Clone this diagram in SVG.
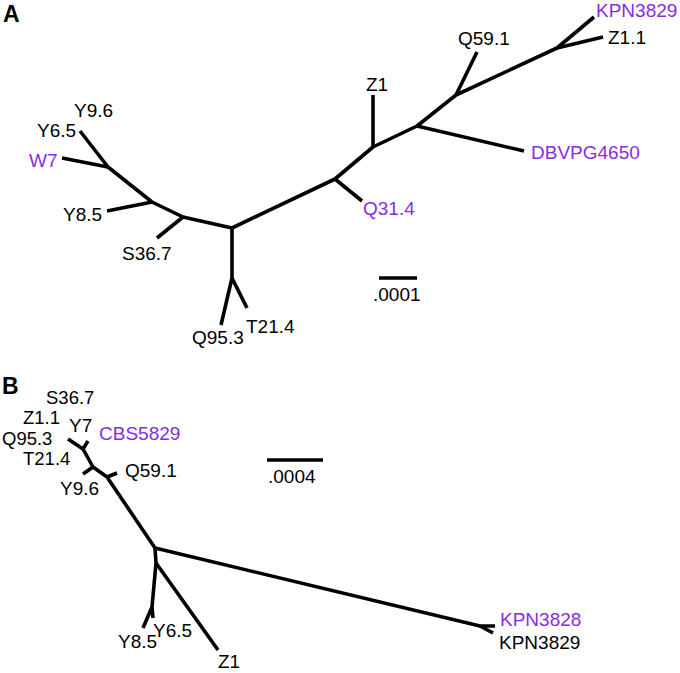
<svg xmlns="http://www.w3.org/2000/svg" width="680" height="673" viewBox="0 0 680 673">
<style>
text{font-family:"Liberation Sans",Arial,sans-serif;font-size:19px;fill:#000}
.p{fill:#8a2be2}
.s{font-size:18.5px}
.h{font-weight:bold;font-size:23px}
.e{fill:none;stroke:#000;stroke-width:3.6;stroke-linecap:butt;stroke-linejoin:round}
</style>
<rect width="680" height="673" fill="#fff"/>
<g id="panelA-label"><text class="h" x="3" y="22">A</text></g>
<g id="panelB-label"><text class="h" x="2" y="394">B</text></g>
<g id="connectors">
<path class="e" d="M80,131 L108,167 L152,202 L183,217 L232,228 L335,179 L373,147 L417,126 L456,95 L557,48 L594,17"/>
<path class="e" d="M62,158 L108,167"/>
<path class="e" d="M107,211 L152,202"/>
<path class="e" d="M157,238 L183,217"/>
<path class="e" d="M232,228 L232,278 L221,325"/>
<path class="e" d="M232,278 L247,308"/>
<path class="e" d="M335,179 L362,201"/>
<path class="e" d="M373,147 L373,95"/>
<path class="e" d="M417,126 L524,151"/>
<path class="e" d="M456,95 L477,52"/>
<path class="e" d="M557,48 L603,37"/>
<path class="e" d="M379,278 L417,278"/>
<path class="e" d="M68,439 L83,449 L93,467 L107,477 L155,548 L480,626 L495,626"/>
<path class="e" d="M83,449 L88,441"/>
<path class="e" d="M93,467 L83,474"/>
<path class="e" d="M107,477 L117,473"/>
<path class="e" d="M480,626 L493,633"/>
<path class="e" d="M155,548 L156,563 L152,607 L143,628"/>
<path class="e" d="M152,607 L153,618"/>
<path class="e" d="M156,563 L218,650"/>
<path class="e" d="M267,460 L323,460"/>
</g>
<g id="A-Y9.6"><text x="74" y="117">Y9.6</text></g>
<g id="A-Y6.5"><text x="37" y="137">Y6.5</text></g>
<g id="A-W7"><text class="p" x="29" y="167">W7</text></g>
<g id="A-Y8.5"><text x="63" y="221">Y8.5</text></g>
<g id="A-S36.7"><text x="122" y="260">S36.7</text></g>
<g id="A-Q95.3"><text x="192" y="344">Q95.3</text></g>
<g id="A-T21.4"><text x="246" y="333">T21.4</text></g>
<g id="A-Q31.4"><text class="p" x="363" y="215">Q31.4</text></g>
<g id="A-Z1"><text x="366" y="91">Z1</text></g>
<g id="A-DBVPG4650"><text class="p" x="531" y="159">DBVPG4650</text></g>
<g id="A-Q59.1"><text x="458" y="45">Q59.1</text></g>
<g id="A-KPN3829"><text class="p" x="596" y="17">KPN3829</text></g>
<g id="A-Z1.1"><text x="608" y="44">Z1.1</text></g>
<g id="A-scale"><text x="373" y="301">.0001</text></g>
<g id="B-S36.7"><text class="s" x="46" y="404">S36.7</text></g>
<g id="B-Z1.1"><text class="s" x="23" y="424">Z1.1</text></g>
<g id="B-Y7"><text x="69" y="432">Y7</text></g>
<g id="B-CBS5829"><text class="p" x="99" y="440">CBS5829</text></g>
<g id="B-Q95.3"><text class="s" x="2" y="444.5">Q95.3</text></g>
<g id="B-T21.4"><text class="s" x="23" y="465">T21.4</text></g>
<g id="B-Q59.1"><text x="125" y="477">Q59.1</text></g>
<g id="B-Y9.6"><text x="60" y="495">Y9.6</text></g>
<g id="B-KPN3828"><text class="p" x="500" y="626">KPN3828</text></g>
<g id="B-KPN3829"><text x="499" y="649">KPN3829</text></g>
<g id="B-Y8.5"><text x="118" y="648">Y8.5</text></g>
<g id="B-Y6.5"><text x="153" y="637">Y6.5</text></g>
<g id="B-Z1"><text x="218" y="668">Z1</text></g>
<g id="B-scale"><text x="268" y="483">.0004</text></g>
</svg>
